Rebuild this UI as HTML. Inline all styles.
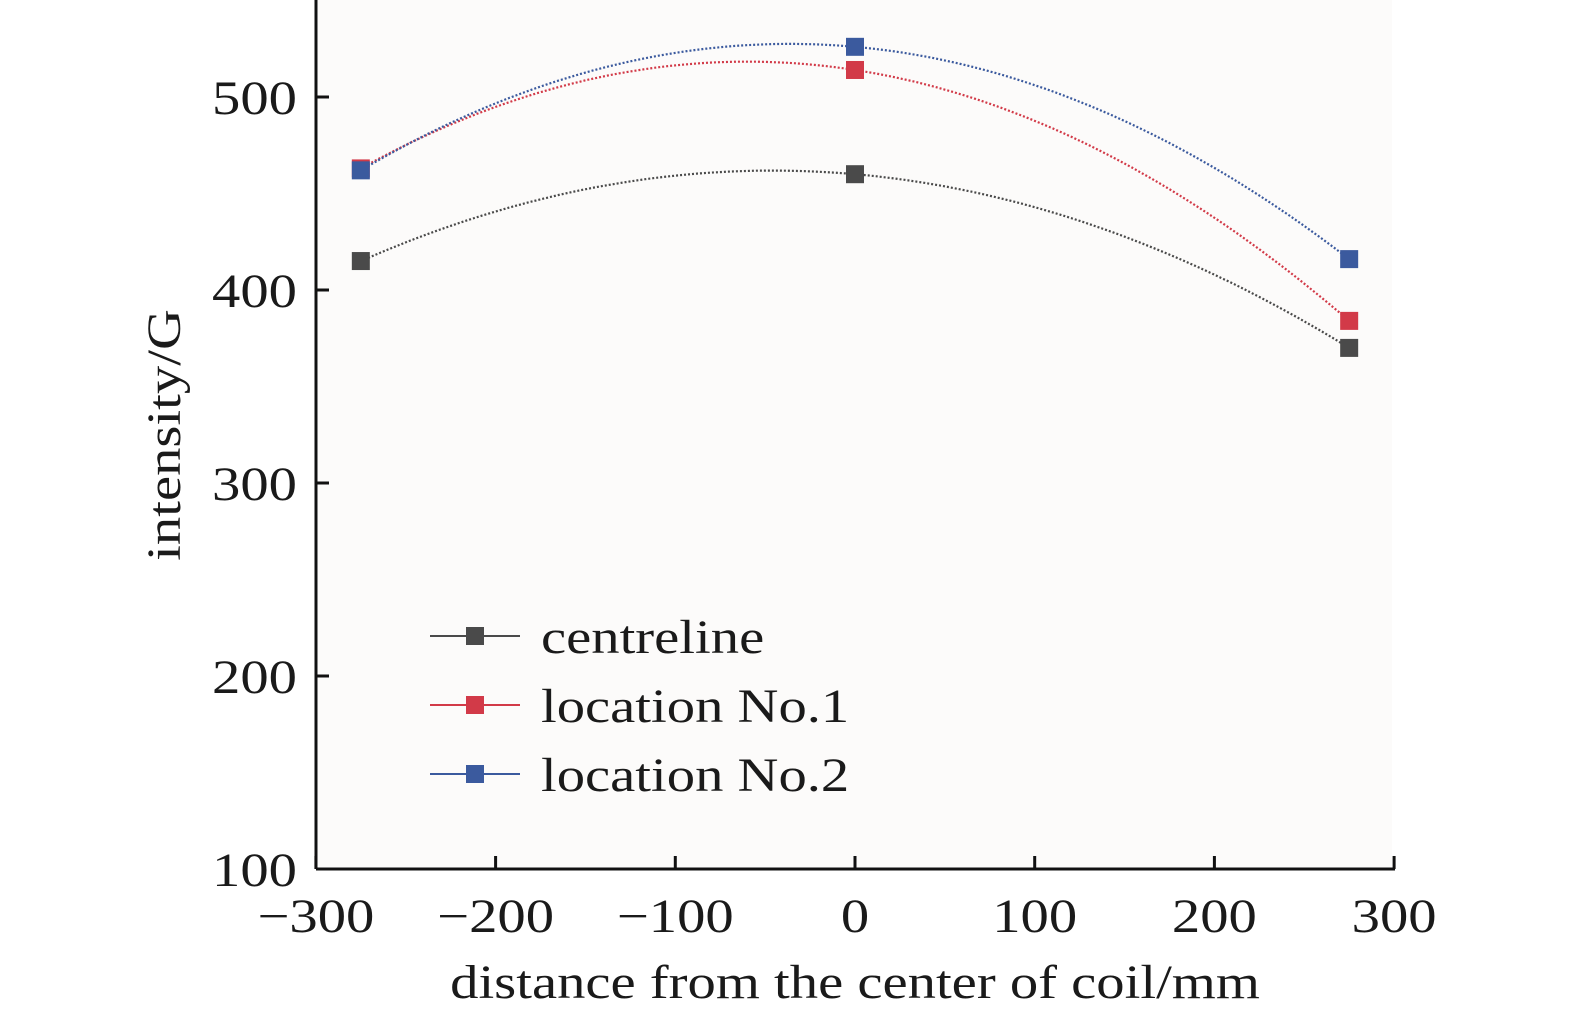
<!DOCTYPE html>
<html><head><meta charset="utf-8"><style>
body{margin:0;background:#fff;}
svg{display:block;font-family:"Liberation Serif",serif;}
</style></head><body>
<svg id="chart" width="1575" height="1021">
<rect x="318" y="0" width="1074" height="867" fill="#fcfbfa"/>
<g id="grid"></g>
<g id="series"></g>
<line x1="316" y1="0" x2="316" y2="869" stroke="#111" stroke-width="3"/>
<line x1="316" y1="869" x2="1395" y2="869" stroke="#111" stroke-width="3"/>
<text transform="translate(855,998) scale(1.18,1)" text-anchor="middle" font-size="48" fill="#1a1a1a">distance from the center of coil/mm</text>
<text transform="translate(180,435) rotate(-90) scale(1.18,1)" text-anchor="middle" font-size="48" fill="#1a1a1a">intensity/G</text>
<g id="legend"></g>
</svg>
<script>
const xs = [-275, 0, 275];
const centreline = [415, 460, 370];
const loc1 = [463, 514, 384];
const loc2 = [462, 526, 416];
const seriesNames = ["centreline", "location No.1", "location No.2"];
const xTicks = [-300, -200, -100, 0, 100, 200, 300];
const yTicks = [100, 200, 300, 400, 500];

const NS = "http://www.w3.org/2000/svg";
function X(v){ return 855 + v * 1.797; }
function Y(v){ return 869 - (v - 100) * 1.93; }
function mk(tag, attrs, parent){ const e=document.createElementNS(NS,tag); for(const k in attrs) e.setAttribute(k,attrs[k]); parent.appendChild(e); return e; }
const grid = document.getElementById('grid');
xTicks.forEach(t=>{
  const l = mk('line',{x1:X(t),x2:X(t),y1:869,y2:856,stroke:'#111','stroke-width':3},grid);
  
  
  const tx = mk('text',{transform:'translate('+X(t)+',932) scale(1.18,1)','text-anchor':'middle','font-size':48,fill:'#1a1a1a'},grid);
  tx.textContent = t<0 ? '\u2212'+Math.abs(t) : String(t);
  
  
});
yTicks.forEach(t=>{
  const l = mk('line',{x1:316,x2:329,y1:Y(t),y2:Y(t),stroke:'#111','stroke-width':3},grid);
  
  
  const tx = mk('text',{transform:'translate(297,'+(Y(t)+17)+') scale(1.18,1)','text-anchor':'end','font-size':48,fill:'#1a1a1a'},grid);
  tx.textContent = String(t);
  
  
});
const colors = ['#4a4a4a','#d23a48','#3b5a9e'];
const data = [centreline, loc1, loc2];
const sg = document.getElementById('series');
function lagrange(x, ys){
  let s=0;
  for(let i=0;i<3;i++){ let p=ys[i]; for(let j=0;j<3;j++) if(j!==i) p*=(x-xs[j])/(xs[i]-xs[j]); s+=p; }
  return s;
}
data.forEach((ys,si)=>{
  let d='';
  for(let k=0;k<=100;k++){ const x = xs[0] + (xs[2]-xs[0])*k/100; d += (k?'L':'M') + X(x).toFixed(1)+','+Y(lagrange(x,ys)).toFixed(1); }
  const p = mk('path',{d:d,fill:'none',stroke:colors[si],'stroke-width':2.2,'stroke-dasharray':'2 2'},sg);
  
  
  ys.forEach((v,i)=>{
    const r = mk('rect',{x:X(xs[i])-9,y:Y(v)-9,width:18,height:18,fill:colors[si]},sg);
    
    
  });
});
const lg = document.getElementById('legend');
seriesNames.forEach((n,i)=>{
  const y = 636 + i*69;
  const l = mk('line',{x1:430,x2:520,y1:y,y2:y,stroke:colors[i],'stroke-width':2},lg);
  
  
  const r = mk('rect',{x:466,y:y-9,width:18,height:18,fill:colors[i]},lg);
  
  
  const t = mk('text',{transform:'translate(541,'+(y+17)+') scale(1.18,1)','font-size':48,fill:'#1a1a1a'},lg);
  t.textContent = n;
  
  
});
</script>
</body></html>
